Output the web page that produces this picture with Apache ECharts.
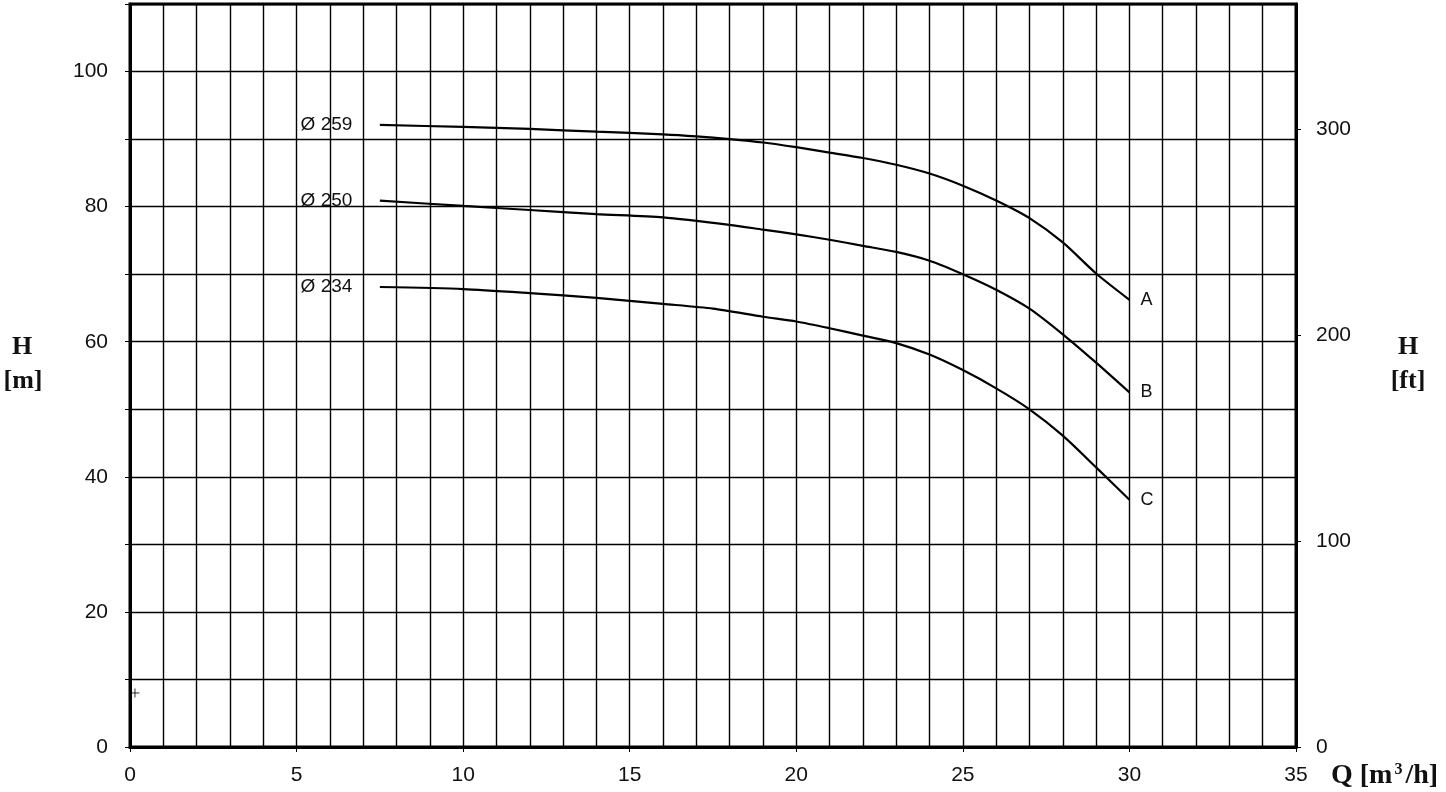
<!DOCTYPE html>
<html>
<head>
<meta charset="utf-8">
<script src="https://cdn.jsdelivr.net/npm/echarts@6/dist/echarts.min.js"></script>
<style>
html,body{margin:0;padding:0;background:#fff;}
#chart{width:1446px;height:792px;}
</style>
</head>
<body>
<div id="chart"></div>
<script>
// Flow Q [m3/h]
const flowA = [7.5, 10, 12, 14, 16, 17, 18, 19, 20, 21, 22, 23, 24, 25, 26, 27, 28, 29, 30];
const headA = [92.1, 91.8, 91.5, 91.1, 90.7, 90.4, 90.0, 89.5, 88.8, 88.0, 87.2, 86.2, 84.9, 83.1, 80.9, 78.3, 74.7, 70.1, 66.2];
const flowB = [7.5, 10, 12, 14, 16, 18, 19, 20, 21, 22, 23, 24, 25, 26, 27, 28, 29, 30];
const headB = [80.9, 80.1, 79.5, 78.9, 78.4, 77.3, 76.6, 75.9, 75.1, 74.2, 73.3, 72.0, 70.0, 67.7, 64.9, 61.1, 56.9, 52.5];
const flowC = [7.5, 10, 12, 14, 16, 17.5, 19, 20, 21, 22, 23, 24, 25, 26, 27, 28, 29, 30];
const headC = [68.1, 67.8, 67.2, 66.5, 65.6, 64.9, 63.7, 63.0, 62.0, 60.9, 59.8, 58.1, 55.8, 53.1, 50.0, 46.1, 41.4, 36.6];
const diameters = ['Ø 259', 'Ø 250', 'Ø 234'];
const curveNames = ['A', 'B', 'C'];
const yTickLabelsM = [0, 20, 40, 60, 80, 100];
const yTickLabelsFt = [0, 100, 200, 300];
const plusMark = [[0.15, 8]];

const M_TO_FT = 1 / 0.3048;
const Y_MAX = 110;

function pairs(xs, ys) { return xs.map((x, i) => [x, ys[i]]); }

const labelFont = { fontFamily: 'Liberation Sans, Arial, sans-serif', fontSize: 21, color: '#111' };
const smallFont = { fontFamily: 'Liberation Sans, Arial, sans-serif', fontSize: 18, color: '#111' };
const diaFont = { fontFamily: 'Liberation Sans, Arial, sans-serif', fontSize: 19, color: '#111' };

function curve(name, dia, xs, ys) {
  return {
    type: 'line', name: name, data: pairs(xs, ys), smooth: 0.25, symbol: 'none',
    lineStyle: { color: '#000', width: 2.2 },
    endLabel: Object.assign({ show: true, formatter: name, distance: 11 }, smallFont),
    markPoint: {
      symbol: 'circle', symbolSize: 1, silent: true, animation: false,
      itemStyle: { color: 'rgba(0,0,0,0)' },
      label: Object.assign({ show: true, position: 'left', distance: 27, formatter: dia }, diaFont),
      data: [{ coord: [xs[0], ys[0]] }]
    },
    silent: true, animation: false
  };
}

const serifBold = 'bold 26px "Liberation Serif", "DejaVu Serif", serif';

const chart = echarts.init(document.getElementById('chart'), null, { renderer: 'canvas' });
chart.setOption({
  animation: false,
  backgroundColor: '#fff',
  grid: { left: 130, right: 150, top: 4, bottom: 45, show: true, borderColor: '#000', borderWidth: 3, backgroundColor: 'transparent' },
  xAxis: {
    type: 'value', min: 0, max: 35, interval: 5,
    axisLine: { show: true, lineStyle: { color: '#000', width: 3 } },
    axisTick: { show: true, length: 5, lineStyle: { color: '#000', width: 1 } },
    minorTick: { show: false, splitNumber: 5 },
    axisLabel: Object.assign({ margin: 18 }, labelFont),
    splitLine: { show: true, lineStyle: { color: '#000', width: 1.4 } },
    minorSplitLine: { show: true, lineStyle: { color: '#000', width: 1.4 } }
  },
  yAxis: [
    {
      type: 'value', min: 0, max: Y_MAX, interval: 10, position: 'left',
      axisLine: { show: true, lineStyle: { color: '#000', width: 3 } },
      axisTick: { show: true, length: 5, lineStyle: { color: '#000', width: 1 } },
      axisLabel: Object.assign({ customValues: yTickLabelsM, margin: 22 }, labelFont),
      splitLine: { show: true, lineStyle: { color: '#000', width: 1.4 } }
    },
    {
      type: 'value', min: 0, max: Y_MAX * M_TO_FT, position: 'right',
      axisLine: { show: true, lineStyle: { color: '#000', width: 3 } },
      axisTick: { show: true, customValues: yTickLabelsFt, length: 5, lineStyle: { color: '#000', width: 1 } },
      axisLabel: Object.assign({ customValues: yTickLabelsFt, margin: 20 }, labelFont),
      splitLine: { show: false }
    }
  ],
  series: [
    curve(curveNames[0], diameters[0], flowA, headA),
    curve(curveNames[1], diameters[1], flowB, headB),
    curve(curveNames[2], diameters[2], flowC, headC),
    {
      type: 'scatter', data: plusMark, symbol: 'path://M5,0L5,10M0,5L10,5',
      symbolSize: 9, itemStyle: { color: 'none', borderColor: '#000', borderWidth: 1 },
      silent: true, animation: false
    }
  ],
  graphic: [
    { type: 'text', x: 22, y: 347, style: { text: 'H', font: serifBold, fill: '#111', align: 'center', verticalAlign: 'middle' } },
    { type: 'text', x: 23, y: 381, style: { text: '[m]', font: serifBold, fill: '#111', align: 'center', verticalAlign: 'middle' } },
    { type: 'text', x: 1408, y: 347, style: { text: 'H', font: serifBold, fill: '#111', align: 'center', verticalAlign: 'middle' } },
    { type: 'text', x: 1408, y: 381, style: { text: '[ft]', font: serifBold, fill: '#111', align: 'center', verticalAlign: 'middle' } },
    {
      type: 'text', x: 1330, y: 776,
      style: {
        text: '{a|Q [m}{s|3}{a|/h]}', verticalAlign: 'middle', fill: '#111',
        rich: {
          a: { font: 'bold 28px "Liberation Serif", "DejaVu Serif", serif', fill: '#111', padding: [0, 1, 0, 1] },
          s: { font: 'bold 16px "Liberation Serif", "DejaVu Serif", serif', fill: '#111', padding: [0, 2, 12, 1] }
        }
      }
    }
  ]
});
</script>
</body>
</html>
